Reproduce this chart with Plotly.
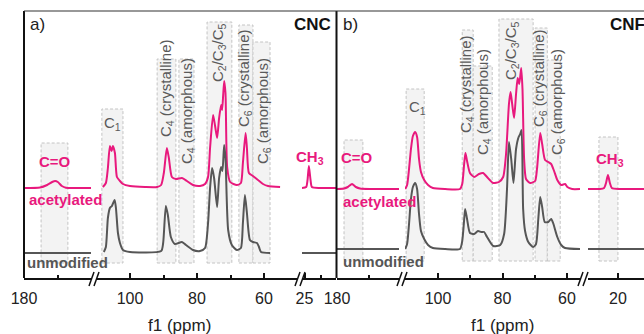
import numpy as np
import plotly.graph_objects as go

W, H = 644, 334
PINK = "#E8197D"
GREY = "#565656"
LABEL_GREY = "#5a5a5a"
FONT = "Arial, Liberation Sans, sans-serif"

# ---------------- data: chemical shift (ppm) and relative intensity ----------------
# a) CNC, acetylated
cnc_ace_ppm = [180, 175.2, 173.1, 171.6, 170.7, 169.9, 168.7, 167.5, 164.8, 160,
               109.9, 108.1, 107.2, 106.6, 106.0, 105.5, 105.1, 104.5, 103.9, 103.0, 102.1, 100, 95.5,
               91.9, 90.7, 89.9, 89.0, 88.4, 87.5, 86.3, 84.5, 83.0, 81.2, 79.1,
               77.6, 76.7, 76.1, 75.2, 74.6, 74.0, 73.4, 72.8, 72.5, 71.9, 71.5, 71.0, 70.1, 68.1,
               66.9, 66.3, 65.5, 65.1, 64.5, 63.3, 61.8, 60.3, 58.8, 55.2, 50.1,
               25.75, 24.5, 24.1, 23.7, 23.2, 22.8, 20.4, 15.6]
cnc_ace_int = [0, 0.5, 3, 6, 7, 6, 2, 0.3, 0, 0,
               0, 1, 5, 20, 42, 37, 42, 35, 11, 7, 4, 2, 1,
               1, 3, 15, 40, 30, 11, 9, 10, 7, 3, 2,
               4, 11, 40, 73, 62, 50, 70, 83, 78, 107, 95, 21, 6, 3,
               5, 25, 55, 40, 15, 12, 8, 4, 2, 1, 0.5,
               0, 1, 8, 22, 8, 1, 0, 0]

# a) CNC, unmodified
cnc_unm_ppm = [180, 160,
               109.9, 107.8, 107.2, 106.6, 106.0, 105.4, 104.6, 104.2, 103.6, 103.0, 102.1, 100,
               90.7, 90.1, 89.3, 88.7, 87.8, 86.6, 84.5, 83.3, 81.2, 79.1,
               77.6, 76.7, 76.1, 75.5, 74.9, 74.0, 73.4, 72.8, 72.4, 71.9, 71.5, 70.7, 69.6, 68.1,
               66.9, 66.3, 65.7, 65.1, 64.2, 63.3, 62.1, 61.5, 60.9, 58.2, 50.1,
               25.75, 15.6]
cnc_unm_int = [0, 0,
               0, 1, 6, 35, 45, 47, 53, 45, 20, 10, 3, 1,
               2, 10, 47, 38, 16, 9, 11, 8, 3, 2,
               5, 30, 65, 85, 75, 46, 75, 86, 82, 108, 95, 23, 8, 3,
               5, 30, 58, 40, 13, 11, 10, 6, 1, 0, 0,
               0, 0]

# b) CNF, acetylated
cnf_ace_ppm = [180, 177.8, 176.6, 175.3, 174.1, 172.8, 169.7, 160.6,
               110.2, 109.6, 109.0, 108.4, 107.8, 107.1, 106.5, 105.9, 105.3, 104.3, 103.1, 101.6, 97.8,
               93.2, 92.5, 91.9, 91.5, 91.0, 90.1, 88.8, 87.3, 86.0, 84.8, 82.9, 81.1,
               79.8, 78.9, 78.0, 77.5, 77.0, 76.4, 75.8, 75.3, 74.8, 74.2, 73.8, 73.3, 72.7, 71.4,
               69.9, 69.3, 68.3, 67.7, 66.8, 65.8, 64.9, 64.0, 63.0, 61.8, 60.6, 59.9, 58.4, 55.96,
               29.3, 25.6, 24.3, 23.7, 23.1, 22.5, 21.9, 19.4, 11.9]
cnf_ace_int = [0, 0.5, 2, 5, 2, 0.5, 0, 0,
               0, 4, 20, 40, 53, 57, 52, 30, 17, 9, 4, 1, 0,
               0, 5, 25, 36, 28, 16, 12, 15, 16, 12, 6, 7,
               12, 35, 85, 97, 85, 71, 95, 111, 105, 121, 100, 30, 10, 6,
               8, 20, 56, 45, 29, 27, 25, 18, 9, 4, 5, 2, 0, 0,
               0, 0, 1, 6, 14, 6, 1, 0, 0]

# b) CNF, unmodified
cnf_unm_ppm = [180, 160.6,
               110.2, 109.6, 109.0, 108.4, 107.8, 107.1, 106.5, 105.9, 105.3, 104.3, 103.1, 101.6, 97.8,
               93.2, 92.5, 92.0, 91.6, 91.0, 90.1, 88.8, 87.6, 86.6, 85.7, 84.8, 82.9, 80.7,
               79.5, 78.6, 78.0, 77.3, 76.6, 75.8, 75.0, 74.5, 74.1, 73.6, 73.0, 72.0, 70.5,
               69.6, 68.9, 68.3, 67.7, 66.9, 65.8, 64.9, 64.3, 63.0, 61.8, 60.6, 55.96,
               29.3, 11.9]
cnf_unm_int = [0, 0,
               0, 5, 25, 50, 62, 66, 60, 35, 18, 10, 4, 1, 0,
               0, 8, 25, 40, 30, 16, 15, 18, 17, 17, 12, 3, 4,
               15, 60, 107, 90, 66, 100, 112, 115, 119, 40, 18, 7, 2,
               5, 30, 52, 42, 27, 27, 30, 26, 12, 4, 1, 0,
               0, 0]

# peak-assignment regions (ppm from, ppm to)
REGION_NAMES = ["C=O", "C1", "C4c", "C4a", "C235", "C6c", "C6a", "CH3"]
cnc_regions = [(174.9, 166.9), (108.4, 102.1), (91.9, 86.3), (85.4, 80.9),
               (77.0, 69.6), (67.5, 63.3), (63.3, 58.2), (26.9, 20.7)]
cnf_regions = [(177.8, 171.9), (109.9, 104.3), (92.5, 89.1), (89.1, 83.2),
               (81.1, 70.5), (69.9, 66.1), (66.1, 62.1), (25.9, 20.0)]

# tick labels
cnc_major = [[180], [100, 80, 60], [25]]
cnc_minor = [[170], [90, 70], [20]]
cnf_major = [[180], [100, 80, 60], [20]]
cnf_minor = [[170], [90, 70], []]

# ---------------- layout geometry (pixels) ----------------
Y_BOT, Y_TOP = 278, 11
def px(x):
    return x / W
def py(y):
    return 1 - y / H

panels = [
    dict(name="a", segs=[(180, 160), (109.85, 50.15), (25.75, 15.6)],
         doms=[(24, 91), (97, 297), (302, 336)],
         ace=(cnc_ace_ppm, cnc_ace_int), unm=(cnc_unm_ppm, cnc_unm_int),
         off_ace=90, off_unm=25, major=cnc_major, minor=cnc_minor,
         regions=cnc_regions, tops=[143, 109, 59, 59, 22, 25, 42, 121], box_bot=263),
    dict(name="b", segs=[(180, 160.6), (110.25, 55.96), (29.3, 11.9)],
         doms=[(337, 399), (405, 580), (588, 644)],
         ace=(cnf_ace_ppm, cnf_ace_int), unm=(cnf_unm_ppm, cnf_unm_int),
         off_ace=89, off_unm=29, major=cnf_major, minor=cnf_minor,
         regions=cnf_regions, tops=[140, 89, 30, 66, 19, 28, 60, 137], box_bot=261),
]

fig = go.Figure()
layout_axes = {}
shapes = []
k = 0
for p in panels:
    for si, ((hi, lo), (d0, d1)) in enumerate(zip(p["segs"], p["doms"])):
        k += 1
        xname = "x" if k == 1 else f"x{k}"
        lname = "xaxis" if k == 1 else f"xaxis{k}"
        for (ppm, inten), off, col in [(p["ace"], p["off_ace"], PINK), (p["unm"], p["off_unm"], GREY)]:
            ppm = np.array(ppm, float)
            inten = np.array(inten, float)
            m = (ppm <= hi + 1e-6) & (ppm >= lo - 1e-6)
            fig.add_trace(go.Scatter(x=ppm[m], y=inten[m] + off, xaxis=xname, yaxis="y",
                                     mode="lines", line=dict(color=col, width=2, shape="spline", smoothing=0.6),
                                     hoverinfo="skip", showlegend=False))
        layout_axes[lname] = dict(
            domain=[px(d0), px(d1)], range=[hi, lo], anchor="y",
            showline=True, linecolor="#111", linewidth=1.5, mirror=False,
            ticks="inside", ticklen=5, tickwidth=1.5, tickcolor="#111",
            tickvals=p["major"][si], ticktext=[str(v) for v in p["major"][si]],
            ticklabelstandoff=5,
            minor=dict(tickvals=p["minor"][si], ticks="inside", ticklen=3, tickwidth=1.5, tickcolor="#111", showgrid=False),
            showgrid=False, zeroline=False, fixedrange=True,
            tickfont=dict(family=FONT, size=16, color="#222"))
        # shaded assignment boxes within this segment
        for (r0, r1), top in zip(p["regions"], p["tops"]):
            if min(r0, r1) >= lo - 0.5 and max(r0, r1) <= hi + 0.5:
                shapes.append(dict(type="rect", xref=xname, yref="paper", x0=r0, x1=r1,
                                   y0=py(p["box_bot"]), y1=py(top), layer="below",
                                   fillcolor="#f3f3f3", line=dict(color="#c4c4c4", width=1, dash="3px,2px")))

layout_axes["yaxis"] = dict(domain=[py(Y_BOT), py(Y_TOP)], range=[0, Y_BOT - Y_TOP], visible=False,
                            anchor="x", fixedrange=True)

# frame lines
def pline(x0, y0, x1, y1, color="#111", width=1.5):
    shapes.append(dict(type="line", xref="paper", yref="paper", x0=px(x0), y0=py(y0), x1=px(x1), y1=py(y1),
                       line=dict(color=color, width=width)))

pline(24, Y_TOP, 24, Y_BOT, width=2)
pline(336.5, Y_TOP, 336.5, Y_BOT, width=2)
pline(24, Y_TOP, 644, Y_TOP, color="#333", width=1.2)
# axis break marks
for bx in [89, 295, 397, 578]:
    for dx in (0, 5):
        pline(bx + dx, 286, bx + dx + 5, 272, width=1.5)

ann = []
def text(x, y, s, size=15, color=LABEL_GREY, bold=False, angle=0, xanchor="center"):
    if bold:
        s = f"<b>{s}</b>"
    ann.append(dict(x=px(x), y=py(y), xref="paper", yref="paper", text=s, showarrow=False,
                    textangle=angle, xanchor=xanchor, yanchor="middle",
                    font=dict(family=FONT, size=size, color=color)))

# panel a labels
text(28, 25, "a)", size=17, color="#222", xanchor="left")
text(333, 24, "CNC", size=17, color="#111", bold=True, xanchor="right")
text(55, 162, "C=O", color=PINK, bold=True)
text(310, 157, "CH<sub>3</sub>", color=PINK, bold=True)
text(27, 200, "acetylated", color=PINK, bold=True, xanchor="left")
text(25, 262, "unmodified", color=GREY, bold=True, xanchor="left")
text(112, 123, "C<sub>1</sub>")
text(166, 88, "C<sub>4</sub> (crystalline)", angle=-90)
text(187, 111, "C<sub>4</sub> (amorphous)", angle=-90)
text(218, 52, "C<sub>2</sub>/C<sub>3</sub>/C<sub>5</sub>", angle=-90)
text(245, 78, "C<sub>6</sub> (crystalline)", angle=-90)
text(263, 111, "C<sub>6</sub> (amorphous)", angle=-90)
text(180, 325, "f1 (ppm)", size=17, color="#222")

# panel b labels
text(341, 25, "b)", size=17, color="#222", xanchor="left")
text(608, 24, "CNF", size=17, color="#111", bold=True, xanchor="left")
text(357, 157, "C=O", color=PINK, bold=True)
text(610, 159, "CH<sub>3</sub>", color=PINK, bold=True)
text(341, 201, "acetylated", color=PINK, bold=True, xanchor="left")
text(341, 261, "unmodified", color=GREY, bold=True, xanchor="left")
text(417, 107, "C<sub>1</sub>")
text(466, 84, "C<sub>4</sub> (crystalline)", angle=-90)
text(483, 102, "C<sub>4</sub> (amorphous)", angle=-90)
text(512, 50, "C<sub>2</sub>/C<sub>3</sub>/C<sub>5</sub>", angle=-90)
text(540, 78, "C<sub>6</sub> (crystalline)", angle=-90)
text(557, 102, "C<sub>6</sub> (amorphous)", angle=-90)
text(503, 325, "f1 (ppm)", size=17, color="#222")

fig.update_layout(width=W, height=H, margin=dict(l=0, r=0, t=0, b=0, autoexpand=False),
                  paper_bgcolor="white", plot_bgcolor="white", showlegend=False,
                  shapes=shapes, annotations=ann, **layout_axes)
fig.write_html("out.html", config={"displayModeBar": False})
